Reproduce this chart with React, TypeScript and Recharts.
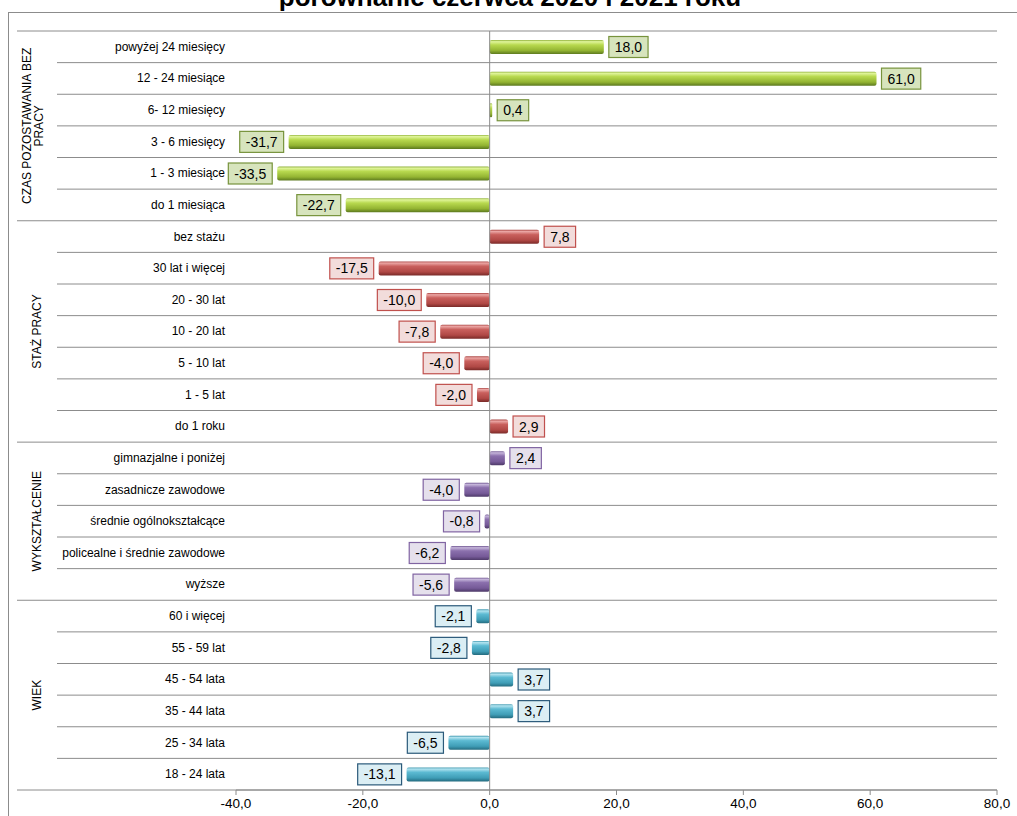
import React from 'react'
import { BarChart, Bar, XAxis, YAxis, Cell, LabelList, ReferenceLine } from 'recharts'

const CATEGORIES = [
  'powyżej 24 miesięcy', '12 - 24 miesiące', '6- 12 miesięcy', '3 - 6 miesięcy', '1 - 3 miesiące', 'do 1 miesiąca',
  'bez stażu', '30 lat i więcej', '20 - 30 lat', '10 - 20 lat', '5 - 10 lat', '1 - 5 lat', 'do 1 roku',
  'gimnazjalne i poniżej', 'zasadnicze zawodowe', 'średnie ogólnokształcące', 'policealne i średnie zawodowe', 'wyższe',
  '60 i więcej', '55 - 59 lat', '45 - 54 lata', '35 - 44 lata', '25 - 34 lata', '18 - 24 lata',
]
const VALUES = [
  18.0, 61.0, 0.4, -31.7, -33.5, -22.7,
  7.8, -17.5, -10.0, -7.8, -4.0, -2.0, 2.9,
  2.4, -4.0, -0.8, -6.2, -5.6,
  -2.1, -2.8, 3.7, 3.7, -6.5, -13.1,
]
const GROUP_LABELS = [['CZAS POZOSTAWANIA BEZ', 'PRACY'], ['STAŻ PRACY'], ['WYKSZTAŁCENIE'], ['WIEK']]
const GROUP_SIZES = [6, 7, 5, 6]
const X_TICKS = [-40, -20, 0, 20, 40, 60, 80]
const TITLE = 'porównanie czerwca 2020 i 2021 roku'

const GROUP_STYLE = [
  { id: 'gGreen', stops: ['#8fb03a', '#e0f59a', '#b8d94f', '#93b432', '#5d7a1f'], box: '#d7e4bd', border: '#77933c' },
  { id: 'gRed', stops: ['#a84240', '#eba6a4', '#c9605d', '#b04845', '#7a2a28'], box: '#f2dcdb', border: '#c0504d' },
  { id: 'gPurple', stops: ['#6e5590', '#c5b5da', '#8b70ad', '#765a98', '#4e3a69'], box: '#e5e0ec', border: '#8064a2' },
  { id: 'gBlue', stops: ['#3a95ad', '#b2e3ef', '#5cbad2', '#3f9db6', '#256c80'], box: '#dbeef4', border: '#2b5a7a' },
]
const STOP_OFFSETS = [0, 0.12, 0.35, 0.75, 1]

const groupOf = (i: number) => {
  let acc = 0
  for (let g = 0; g < GROUP_SIZES.length; g++) {
    acc += GROUP_SIZES[g]
    if (i < acc) return g
  }
  return GROUP_SIZES.length - 1
}
const groupStart = (g: number) => GROUP_SIZES.slice(0, g).reduce((a, b) => a + b, 0)

const data = CATEGORIES.map((name, i) => ({ name, value: VALUES[i], group: groupOf(i) }))

const W = 1017
const H = 816
const TOP = 31
const RIGHT = 20
const AXIS_H = 26
const Y_W = 236
const ROW_H = (H - TOP - AXIS_H) / CATEGORIES.length
const FONT = '"Liberation Sans", Arial, sans-serif'
const LINE = '#8c8c8c'

const fmt = (v: number) => v.toFixed(1).replace('.', ',')

const textWidth = (s: string, size: number) => {
  let w = 0
  for (const ch of s) w += ch === ',' ? 0.278 : ch === '-' ? 0.333 : 0.556
  return w * size
}

function CatTick(props: any) {
  const { y, payload } = props
  const i = CATEGORIES.indexOf(payload.value)
  const g = groupOf(i)
  const lastInGroup = i === groupStart(g) + GROUP_SIZES[g] - 1
  const right = W - RIGHT
  const bottom = y + ROW_H / 2
  return (
    <g>
      {i === 0 && <line x1={17} x2={right} y1={y - ROW_H / 2} y2={y - ROW_H / 2} stroke={LINE} />}
      <line x1={lastInGroup ? 17 : 57} x2={right} y1={bottom} y2={bottom} stroke={LINE} />
      <text x={225} y={y} dy={4} textAnchor="end" fontSize={12} fontFamily={FONT} fill="#000">
        {payload.value}
      </text>
      {i === groupStart(g) && (
        <GroupLabel lines={GROUP_LABELS[g]} cy={y - ROW_H / 2 + (GROUP_SIZES[g] * ROW_H) / 2} />
      )}
    </g>
  )
}

function GroupLabel({ lines, cy }: { lines: string[]; cy: number }) {
  const cx = lines.length > 1 ? 33 : 37
  return (
    <text
      transform={`translate(${cx},${cy}) rotate(-90)`}
      textAnchor="middle"
      fontSize={12}
      fontFamily={FONT}
      fill="#000"
    >
      {lines.map((l, k) => (
        <tspan key={k} x={0} dy={k === 0 ? (lines.length > 1 ? -2 : 4) : 12}>
          {l}
        </tspan>
      ))}
    </text>
  )
}

function ValueLabel(props: any) {
  const { x, y, width, height, value } = props
  if (value == null) return null
  let idx = props.index
  if (idx == null) idx = Math.round((y + height / 2 - TOP) / ROW_H - 0.5)
  const st = GROUP_STYLE[groupOf(idx)]
  const label = fmt(value)
  const fs = 14
  const bw = textWidth(label, fs) + 12
  const bh = 21
  const x0 = Math.min(x, x + width)
  const x1 = Math.max(x, x + width)
  const bx = value >= 0 ? x1 + 5 : x0 - 5 - bw
  const cy = y + height / 2
  return (
    <g>
      <rect x={bx} y={cy - bh / 2} width={bw} height={bh} fill={st.box} stroke={st.border} strokeWidth={1.2} />
      <text x={bx + bw / 2} y={cy} dy={5} textAnchor="middle" fontSize={fs} fontFamily={FONT} fill="#000">
        {label}
      </text>
    </g>
  )
}

export default function App() {
  return (
    <div style={{ position: 'absolute', left: 0, top: 0, width: W, height: H, background: '#fff' }}>
      <svg width={W} height={H} style={{ position: 'absolute', left: 0, top: 0 }}>
        <rect x={8.5} y={12.5} width={W + 20} height={H + 20} fill="none" stroke={LINE} />
        <text x={510} y={6} textAnchor="middle" fontSize={26} fontWeight="bold" fontFamily={FONT} fill="#000">
          {TITLE}
        </text>
      </svg>
      <div style={{ position: 'absolute', left: 0, top: 0 }}>
        <BarChart
          width={W}
          height={H}
          layout="vertical"
          data={data}
          margin={{ top: TOP, right: RIGHT, bottom: 0, left: 0 }}
          barSize={14}
        >
          <defs>
            {GROUP_STYLE.map((s) => (
              <linearGradient key={s.id} id={s.id} x1="0" y1="0" x2="0" y2="1">
                {s.stops.map((c, k) => (
                  <stop key={k} offset={STOP_OFFSETS[k]} stopColor={c} />
                ))}
              </linearGradient>
            ))}
          </defs>
          <XAxis
            type="number"
            domain={[-40, 80]}
            ticks={X_TICKS}
            height={AXIS_H}
            tickFormatter={fmt}
            axisLine={{ stroke: LINE }}
            tickLine={{ stroke: LINE }}
            tickSize={5}
            tickMargin={3}
            tick={{ fill: '#000', fontSize: 13.5, fontFamily: FONT }}
            interval={0}
          />
          <YAxis
            type="category"
            dataKey="name"
            width={Y_W}
            axisLine={false}
            tickLine={false}
            interval={0}
            tick={(p: any) => <CatTick {...p} />}
          />
          <ReferenceLine x={0} stroke={LINE} />
          <Bar dataKey="value" isAnimationActive={false} radius={2}>
            {data.map((d, i) => (
              <Cell key={i} fill={`url(#${GROUP_STYLE[d.group].id})`} />
            ))}
            <LabelList dataKey="value" content={(p: any) => <ValueLabel {...p} />} />
          </Bar>
        </BarChart>
      </div>
    </div>
  )
}
